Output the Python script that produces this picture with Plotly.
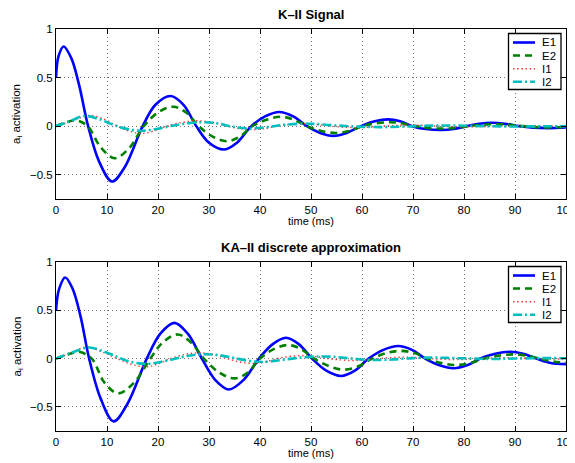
import plotly.graph_objects as go

# ---------------- data ----------------
series_names = ["E1", "E2", "I1", "I2"]
x_ticks = [0, 10, 20, 30, 40, 50, 60, 70, 80, 90, 100]
y_ticks = [-0.5, 0, 0.5, 1]
titles = ["K\u2013II Signal", "KA\u2013II discrete approximation"]
x_label = "time (ms)"
y_label = "a<sub>i</sub> activation"

# Top panel: K-II signal
top_E1_t = [0, 0.5, 1.5, 3, 4.5, 6.3, 8.5, 11, 13.5, 17, 19.5, 22.5, 25, 27.5, 30, 33, 35.5, 38.3, 41, 43.8,
            46.5, 49.2, 51.8, 54.4, 57, 59.8, 62.5, 65.1, 67.5, 69.8, 72.5, 75.6, 78, 80.5, 83, 85.5, 88, 90.8,
            93.5, 96.5, 100]
top_E1_v = [0.5, 0.72, 0.82, 0.7, 0.43, 0.0, -0.37, -0.57, -0.42, 0.0, 0.22, 0.31, 0.22, 0.0, -0.17, -0.24,
            -0.17, 0.0, 0.10, 0.145, 0.10, 0.0, -0.07, -0.10, -0.07, 0.0, 0.05, 0.07, 0.05, 0.0, -0.03, -0.04,
            -0.03, 0.0, 0.025, 0.035, 0.025, 0.0, -0.015, -0.02, -0.014]
top_E2_t = [0, 2, 4, 6.2, 8.8, 11.5, 14.3, 17.2, 20, 23, 25.5, 28, 30.8, 33.5, 36, 38.5, 41.3, 44.2, 46.7,
            49.2, 52, 55, 57.5, 60, 62.5, 65.5, 68, 70.5, 73, 76, 78.5, 81, 83.5, 86.3, 89, 91.5, 94, 97, 100]
top_E2_v = [0, 0.04, 0.06, 0.0, -0.22, -0.33, -0.23, 0.0, 0.14, 0.20, 0.14, 0.0, -0.11, -0.155, -0.11, 0.0,
            0.065, 0.097, 0.065, 0.0, -0.05, -0.07, -0.05, 0.0, 0.028, 0.04, 0.028, 0.0, -0.018, -0.025,
            -0.018, 0.0, 0.014, 0.02, 0.014, 0.0, -0.01, -0.013, -0.008]
top_I1_t = [0, 3, 6.5, 9.5, 12, 14.3, 16.7, 19.2, 21.7, 24.7, 27.7, 30.7, 33.5, 36, 38.6, 41, 43.2, 45.5, 48,
            51, 54, 56.2, 58.5, 61.2, 64, 66.5, 69, 72, 75, 77.5, 80, 83, 86, 88.5, 91, 94, 97, 100]
top_I1_v = [0, 0.05, 0.11, 0.07, 0.0, -0.05, -0.075, -0.05, 0.0, 0.038, 0.055, 0.038, 0.0, -0.025, -0.035,
            -0.025, 0.0, 0.017, 0.025, 0.017, 0.0, -0.011, -0.015, -0.011, 0.0, 0.007, 0.01, 0.007, 0.0,
            -0.005, -0.007, -0.005, 0.0, 0.004, 0.005, 0.003, 0.0, -0.002]
top_I2_t = [0, 2.5, 5.5, 8, 10, 12.5, 14.5, 16.5, 18.5, 21.5, 24.5, 28.5, 31.5, 34.5, 38, 41.5, 45, 49.5,
            54, 59, 64, 69, 74, 79, 84, 89, 94, 100]
top_I2_v = [0, 0.045, 0.105, 0.08, 0.04, -0.01, -0.035, -0.048, -0.04, -0.01, 0.02, 0.04, 0.03, -0.005,
            -0.025, -0.01, 0.015, 0.025, 0.01, -0.005, -0.01, -0.003, 0.006, 0.006, 0.0, -0.003, -0.002, 0.0]

# Bottom panel: KA-II discrete approximation
bot_E1_t = [0, 0.6, 1.8, 3.2, 4.8, 6.5, 8.8, 11.3, 14, 17.8, 20.5, 23.2, 25.8, 28.6, 31.2, 33.9, 36.8, 39.8,
            42.5, 45.1, 47.6, 50.2, 53, 55.9, 58.6, 61.3, 64.2, 67.1, 69.8, 72.4, 75.2, 78, 80.6, 83.2, 86.1,
            89, 91.6, 94.2, 97, 100]
bot_E1_v = [0.5, 0.72, 0.84, 0.73, 0.44, 0.0, -0.42, -0.65, -0.47, 0.0, 0.26, 0.37, 0.26, 0.0, -0.22, -0.32,
            -0.22, 0.0, 0.15, 0.215, 0.15, 0.0, -0.125, -0.18, -0.125, 0.0, 0.09, 0.13, 0.09, 0.0, -0.07,
            -0.10, -0.07, 0.0, 0.05, 0.07, 0.05, 0.0, -0.045, -0.057]
bot_E2_t = [0, 2.5, 4.5, 7, 9.5, 12.2, 15.3, 18.5, 21, 23.9, 26.4, 29, 32, 35, 37.6, 40, 42.8, 45.5, 48,
            50.6, 53.6, 56.5, 59.3, 62, 64.8, 67.6, 70.3, 72.8, 75.6, 78.4, 81.2, 84, 86.8, 89.6, 92.2, 94.8,
            97.5, 100]
bot_E2_v = [0, 0.045, 0.07, 0.0, -0.25, -0.36, -0.25, 0.0, 0.17, 0.25, 0.17, 0.0, -0.145, -0.205, -0.145,
            0.0, 0.1, 0.14, 0.1, 0.0, -0.08, -0.115, -0.08, 0.0, 0.057, 0.08, 0.057, 0.0, -0.047, -0.067,
            -0.047, 0.0, 0.03, 0.043, 0.03, 0.0, -0.03, -0.045]
bot_I1_t = [0, 3, 6, 9, 12, 14.8, 17.8, 20, 22, 25, 28, 31, 33.5, 36, 38.7, 41, 43.3, 45.8, 48.3, 50.8, 53.3,
            55.8, 58.3, 60.8, 63.3, 65.8, 68.3, 70.8, 73.3, 75.8, 78.3, 80.8, 83.3, 86, 88.5, 91, 94, 97, 100]
bot_I1_v = [0, 0.06, 0.12, 0.07, 0.0, -0.06, -0.085, -0.055, -0.01, 0.04, 0.06, 0.04, 0.0, -0.035, -0.05,
            -0.035, 0.0, 0.022, 0.03, 0.022, 0.0, -0.014, -0.02, -0.014, 0.0, 0.01, 0.015, 0.01, 0.0, -0.007,
            -0.01, -0.007, 0.0, 0.006, 0.008, 0.005, 0.0, -0.004, -0.005]
bot_I2_t = [0, 3, 6.5, 9, 11.5, 14, 17.5, 20.5, 23.5, 26, 29, 32, 35, 38, 40.5, 43.5, 47, 50.5, 54, 58, 62,
            66, 70, 74, 78, 82, 86, 90, 95, 100]
bot_I2_v = [0, 0.06, 0.115, 0.08, 0.03, -0.025, -0.055, -0.035, 0.0, 0.03, 0.045, 0.035, 0.005, -0.025,
            -0.035, -0.02, 0.005, 0.02, 0.02, 0.0, -0.015, -0.01, 0.005, 0.01, 0.005, 0.0, -0.004, 0.0,
            0.005, 0.003]

# ---------------- styling ----------------
FONT = "Liberation Sans, Arial, Helvetica, sans-serif"
styles = {
    "E1": dict(color="#0000FF", width=2.6, dash="solid"),
    "E2": dict(color="#008000", width=2.6, dash="7px,5px"),
    "I1": dict(color="#FF3030", width=1.4, dash="1.4px,2.8px"),
    "I2": dict(color="#00BFBF", width=2.6, dash="9px,3px,2px,3px"),
}

panels = [
    ("x", "y", [(top_E1_t, top_E1_v), (top_E2_t, top_E2_v), (top_I1_t, top_I1_v), (top_I2_t, top_I2_v)]),
    ("x2", "y2", [(bot_E1_t, bot_E1_v), (bot_E2_t, bot_E2_v), (bot_I1_t, bot_I1_v), (bot_I2_t, bot_I2_v)]),
]

fig = go.Figure()
for xa, ya, data in panels:
    for name, (t, v) in zip(series_names, data):
        fig.add_trace(go.Scatter(
            x=t, y=v, mode="lines", name=name, xaxis=xa, yaxis=ya, showlegend=False,
            line=dict(color=styles[name]["color"], width=styles[name]["width"],
                      dash=styles[name]["dash"], shape="spline", smoothing=1.0),
        ))

# The page body has an 8px default margin, so the figure is drawn 8px smaller
# and the plot areas land where the reference has them.
OFF = 8
W, H = 575 - OFF, 463 - OFF
ML, MR, MT, MB = 56 - OFF, 9, 29 - OFF, 32
PW, PH = W - ML - MR, H - MT - MB
top_dom = [(PH - 170) / PH, 1.0]
bot_dom = [0.0, 169 / PH]

axis_common = dict(
    showline=True, linecolor="black", linewidth=1, mirror="ticks",
    ticks="inside", ticklen=5, tickcolor="black", tickwidth=1,
    showgrid=True, gridcolor="rgba(0,0,0,0.55)", griddash="1px,3px", gridwidth=1,
    zeroline=False, ticklabeloverflow="allow",
    tickfont=dict(family=FONT, size=11.5, color="black"),
)

fig.update_layout(
    width=W, height=H, margin=dict(l=ML, r=MR, t=MT, b=MB, autoexpand=False),
    paper_bgcolor="white", plot_bgcolor="white", showlegend=False,
    font=dict(family=FONT, color="black"),
    xaxis=dict(domain=[0, 1], anchor="y", range=[0, 100], tickvals=x_ticks, **axis_common),
    yaxis=dict(domain=top_dom, anchor="x", range=[-0.75, 1], tickvals=y_ticks, **axis_common),
    xaxis2=dict(domain=[0, 1], anchor="y2", range=[0, 100], tickvals=x_ticks, **axis_common),
    yaxis2=dict(domain=bot_dom, anchor="x2", range=[-0.75, 1], tickvals=y_ticks, **axis_common),
)

annotations = []
shapes = []
for (xa, ya, _), title, dh in zip(panels, titles, [170, 169]):
    xd, yd = xa + " domain", ya + " domain"
    annotations.append(dict(text="<b>%s</b>" % title, xref=xd, yref=yd, x=0.5, y=1, yshift=15,
                            xanchor="center", yanchor="middle", showarrow=False,
                            font=dict(family=FONT, size=13, color="black")))
    annotations.append(dict(text=x_label, xref=xd, yref=yd, x=0.5, y=0, yshift=-22,
                            xanchor="center", yanchor="middle", showarrow=False,
                            font=dict(family=FONT, size=11, color="black")))
    annotations.append(dict(text=y_label, xref="paper", yref=yd, x=(17 - 56) / PW, y=0.5,
                            xanchor="center", yanchor="middle", textangle=-90, showarrow=False,
                            font=dict(family=FONT, size=11.5, color="black")))
    # legend box
    bx0, bx1 = (508.5 - 56) / PW, (561 - 56) / PW
    by0, by1 = 1 - 60.5 / dh, 1 - 4.5 / dh
    shapes.append(dict(type="rect", xref=xd, yref=yd, x0=bx0, x1=bx1, y0=by0, y1=by1,
                       line=dict(color="black", width=1.3), fillcolor="white", layer="above"))
    rows = [13.5, 26.5, 39.8, 52.8]
    for name, off in zip(series_names, rows):
        yy = 1 - off / dh
        st = styles[name]
        shapes.append(dict(type="line", xref=xd, yref=yd, x0=(513 - 56) / PW, x1=(535 - 56) / PW,
                           y0=yy, y1=yy, layer="above",
                           line=dict(color=st["color"], width=st["width"], dash=st["dash"])))
        annotations.append(dict(text=name, xref=xd, yref=yd, x=(540 - 56) / PW, y=yy,
                                xanchor="left", yanchor="middle", showarrow=False,
                                font=dict(family=FONT, size=11.5, color="black")))

fig.update_layout(annotations=annotations, shapes=shapes)
fig.write_html("out.html")
